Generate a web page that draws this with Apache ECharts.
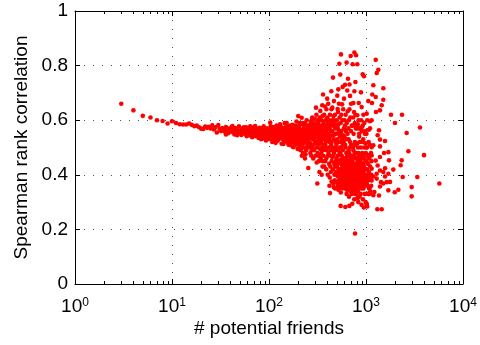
<!DOCTYPE html>
<html>
<head>
<meta charset="utf-8">
<script src="https://cdn.jsdelivr.net/npm/echarts@6/dist/echarts.min.js"></script>
<style>
  html, body { margin: 0; padding: 0; background: #fff; }
  #chart { width: 480px; height: 345px; }
</style>
</head>
<body>
<div id="chart"></div>
<script>
// Spearman rank correlation against number of potential friends (log x)

const xRange = [1, 10000];
const yTicks = [0, 0.2, 0.4, 0.6, 0.8, 1];
const minorTickVals = [2,3,4,5,6,7,8,9,20,30,40,50,60,70,80,90,200,300,400,500,600,700,800,900,2000,3000,4000,5000,6000,7000,8000,9000];

// few potential friends: one user per count
const tailPts = [
  [3,.660],[4,.636],[5,.616],[6,.610],[7,.600],[8,.597],[9,.588],[10,.596],[11,.590],[12,.585],
  [13,.584],[14,.584],[15,.588],[16,.583],[17,.578],[18,.580],[19,.574],[20,.569],[21,.568],[22,.577],
  [23,.572],[24,.576],[25,.570],[26,.581],[27,.566],[28,.574],[29,.555]
];

// 30 - 100 potential friends
const bandPts = [
  [30,.582],[31,.568],[32,.560],[33,.571],[34,.566],[35,.558],[36,.575],[37,.563],[38,.552],[39,.569],
  [40,.561],[41,.574],[42,.556],[43,.566],[44,.548],[45,.571],[46,.559],[47,.565],[48,.551],[49,.578],
  [50,.557],[51,.563],[52,.546],[53,.569],[54,.553],[55,.574],[56,.560],[57,.549],[58,.566],[59,.541],
  [60,.571],[61,.555],[62,.562],[63,.545],[64,.578],[65,.551],[66,.566],[67,.538],[68,.559],[69,.573],
  [70,.547],[71,.563],[72,.552],[73,.541],[74,.569],[75,.556],[76,.546],[77,.561],[78,.535],[79,.552],
  [80,.572],[81,.544],[82,.558],[83,.530],[84,.565],[85,.549],[86,.539],[87,.557],[88,.545],[89,.568],
  [90,.533],[91,.552],[92,.561],[93,.526],[94,.547],[95,.557],[96,.538],[97,.565],[98,.544],[99,.531],
  [100,.552],[36,.548],[42,.579],[47,.545],[53,.556],[58,.574],[63,.566],[68,.544],[72,.579],[77,.548],
  [82,.569],[86,.558],[91,.540],[95,.570],[98,.560],[79,.538],[88,.578],[93,.555]
];

// 100 - 250 potential friends
const corePts = [
  [101,.540],[102,.565],[103,.591],[104,.530],[105,.555],[106,.547],[107,.572],[108,.520],[109,.561],[110,.538],
  [111,.552],[112,.575],[113,.529],[114,.558],[115,.544],[116,.566],[117,.517],[118,.551],[119,.536],[120,.580],
  [121,.547],[122,.560],[123,.525],[124,.553],[125,.541],[126,.569],[127,.532],[128,.556],[129,.545],[130,.585],
  [104,.578],[108,.548],[112,.537],[116,.522],[120,.558],[124,.570],[128,.535],[106,.560],[118,.565],[126,.550],
  [131,.538],[133,.560],[135,.514],[136,.548],[138,.572],[139,.530],[141,.513],[142,.555],[144,.541],[145,.590],
  [147,.527],[148,.562],[150,.545],[152,.590],[153,.533],[155,.569],[156,.518],[158,.552],[160,.538],[161,.578],
  [163,.525],[164,.560],[166,.546],[167,.508],[169,.571],[170,.535],[172,.555],[173,.519],[175,.583],[176,.542],
  [178,.501],[179,.565],[132,.575],[137,.540],[143,.522],[146,.567],[151,.555],[157,.533],[162,.549],[168,.527],
  [174,.560],[177,.530],[134,.551],[149,.575],[159,.510],[165,.580],[171,.545],
  [181,.548],[183,.527],[185,.570],[186,.510],[188,.556],[190,.538],[192,.595],[193,.520],[195,.562],[197,.495],
  [198,.545],[200,.615],[202,.530],[204,.575],[205,.505],[207,.552],[209,.540],[211,.490],[213,.585],[215,.525],
  [217,.609],[219,.560],[220,.512],[222,.545],[224,.480],[226,.570],[228,.530],[230,.555],[232,.500],[234,.590],
  [236,.538],[238,.475],[240,.565],[242,.520],[244,.548],[246,.498],[248,.580],[250,.535],[184,.540],[189,.580],
  [194,.532],[199,.575],[203,.515],[208,.565],[212,.550],[216,.497],[221,.590],[225,.540],[229,.517],[233,.565],
  [237,.548],[241,.490],[245,.600],[249,.510],[187,.520],[196,.550],[206,.590],[214,.535],[223,.560],[231,.580],
  [239,.530],[247,.555],[218,.470],[235,.460]
];

// 250 - 1150 potential friends: the widening fan
const spreadPts = [
  [255,.55],[258,.52],[262,.58],[265,.50],[268,.56],[270,.54],[273,.47],[275,.60],[252,.57],[260,.535],
  [266,.515],[271,.575],[276,.49],[257,.545],[263,.505],[254,.425],[274,.555],[269,.59],[259,.565],[267,.48],
  [278,.56],[280,.53],[283,.59],[285,.51],[287,.545],[290,.57],[292,.49],[295,.525],[297,.605],[300,.555],
  [302,.47],[281,.50],[288,.585],[294,.54],[299,.515],[303,.58],[286,.46],[296,.565],[279,.61],[291,.53],
  [305,.646],[307,.59],[309,.55],[311,.52],[313,.57],[315,.368],[317,.48],[319,.60],[321,.535],[323,.51],
  [325,.565],[327,.45],[329,.58],[331,.41],[333,.545],[335,.495],[308,.62],[312,.50],[318,.555],[322,.59],
  [326,.47],[330,.525],[334,.61],[310,.445],[320,.575],
  [338,.634],[340,.56],[342,.52],[344,.60],[346,.48],[348,.545],[350,.58],[352,.50],[354,.655],[356,.43],
  [358,.565],[360,.53],[362,.47],[364,.595],[366,.51],[368,.55],[341,.46],[345,.575],[349,.40],[353,.535],
  [357,.615],[361,.49],[365,.56],[343,.515],[359,.45],[367,.585],
  [361,.694],[370,.62],[372,.54],[375,.50],[377,.58],[380,.45],[382,.60],[384,.52],[387,.56],[389,.42],
  [391,.64],[393,.49],[395,.57],[398,.679],[400,.535],[402,.47],[404,.59],[371,.43],[376,.555],[381,.51],
  [386,.575],[390,.46],[394,.545],[399,.61],[403,.40],[378,.65],[392,.525],
  [408,.66],[410,.55],[412,.50],[415,.60],[417,.44],[419,.57],[421,.52],[423,.39],[425,.62],[426,.333],
  [428,.58],[430,.47],[432,.54],[434,.41],[436,.56],[438,.49],[439,.706],[441,.52],[443,.45],[445,.60],
  [411,.48],[416,.53],[420,.36],[424,.565],[429,.43],[433,.595],[437,.51],[442,.375],[414,.585],[427,.545],[440,.64],
  [450,.646],[457,.756],[448,.56],[452,.50],[455,.42],[458,.58],[461,.47],[464,.355],[466,.53],[469,.60],
  [471,.44],[474,.55],[476,.38],[479,.62],[481,.49],[484,.57],[486,.41],[488,.52],[490,.45],[453,.59],
  [459,.37],[463,.545],[468,.48],[473,.40],[478,.575],[483,.43],[487,.50],[449,.465],[467,.67],[480,.35],
  [462,.615],[485,.585],
  [506,.690],[510,.641],[518,.713],[531,.807],[494,.55],[497,.46],[500,.60],[503,.40],[505,.53],[508,.44],
  [512,.57],[514,.36],[516,.49],[520,.585],[522,.42],[525,.52],[527,.38],[530,.555],[533,.45],[535,.61],
  [537,.39],[539,.50],[496,.51],[501,.43],[507,.58],[513,.47],[519,.345],[524,.56],[529,.41],[534,.48],
  [538,.54],[502,.37],[515,.63],[526,.66],[498,.405],[532,.355],[511,.395],[523,.445],
  [543,.767],[548,.286],[552,.841],[566,.658],[575,.722],[544,.55],[546,.42],[549,.59],[551,.37],[554,.50],
  [556,.44],[558,.56],[560,.39],[563,.47],[565,.35],[568,.53],[570,.41],[572,.60],[574,.38],[577,.49],
  [579,.43],[581,.545],[583,.36],[586,.40],[588,.52],[590,.45],[592,.57],[545,.48],[550,.335],[555,.415],
  [559,.52],[562,.36],[567,.44],[571,.385],[576,.51],[580,.40],[584,.46],[589,.37],[557,.62],[582,.64],
  [547,.40],[564,.425],[578,.355],[587,.43],[553,.455],
  [594,.679],[608,.73],[612,.282],[631,.811],[641,.709],[648,.633],[652,.752],[596,.40],[598,.54],[600,.37],
  [603,.46],[605,.42],[607,.58],[610,.35],[614,.50],[616,.39],[618,.44],[620,.56],[622,.36],[624,.41],
  [626,.48],[628,.38],[630,.53],[633,.43],[635,.345],[637,.40],[639,.47],[643,.37],[645,.55],[647,.42],
  [650,.39],[599,.43],[604,.385],[609,.51],[615,.41],[619,.36],[623,.455],[627,.395],[632,.33],[636,.44],
  [640,.375],[646,.415],[651,.47],[602,.60],[617,.62],[634,.59],[649,.355],[611,.445],[625,.43],
  [673,.286],[676,.731],[684,.689],[695,.835],[655,.41],[658,.38],[660,.45],[662,.53],[664,.36],[667,.42],
  [669,.39],[671,.48],[674,.35],[678,.44],[680,.40],[683,.37],[686,.52],[688,.42],[690,.385],[692,.46],
  [694,.34],[697,.41],[699,.56],[701,.38],[703,.43],[706,.36],[708,.47],[710,.40],[712,.33],[714,.44],
  [716,.385],[657,.57],[666,.60],[675,.64],[689,.61],[702,.66],[713,.58],[659,.345],[672,.405],[685,.355],
  [698,.425],[709,.375],[663,.49],[679,.50],[693,.395],[705,.51],[668,.32],[687,.45],
  [722,.294],[728,.805],[741,.663],[759,.848],[759,.706],[771,.185],[778,.74],[789,.838],[720,.45],[724,.38],
  [727,.42],[730,.36],[732,.50],[735,.40],[737,.35],[740,.44],[743,.39],[745,.55],[748,.37],[750,.43],
  [752,.34],[755,.41],[757,.47],[760,.38],[762,.44],[765,.36],[767,.40],[769,.52],[772,.33],[774,.42],
  [776,.375],[779,.46],[781,.35],[783,.40],[785,.57],[787,.43],[725,.58],[738,.61],[753,.63],[766,.59],
  [780,.62],[733,.345],[746,.415],[758,.36],[770,.395],[784,.365],[729,.465],[742,.49],[763,.48],[775,.51],[756,.31],
  [813,.805],[813,.618],[813,.313],[841,.663],[790,.40],[792,.44],[795,.37],[797,.41],[800,.35],[802,.48],
  [805,.39],[807,.43],[810,.36],[815,.42],[817,.38],[820,.46],[822,.34],[825,.40],[827,.50],[830,.37],
  [832,.44],[835,.39],[837,.35],[840,.42],[843,.48],[845,.38],[848,.41],[850,.36],[852,.55],[855,.40],
  [857,.44],[860,.37],[862,.52],[865,.39],[794,.58],[808,.57],[824,.585],[838,.60],[853,.57],[798,.33],
  [818,.315],[833,.30],[858,.32],[803,.46],[828,.45],[846,.47],[864,.43],[812,.515],[849,.54],[887,.702],
  [870,.42],[873,.38],[876,.45],[879,.36],[882,.40],[885,.50],[889,.37],[892,.43],[895,.39],[898,.35],
  [900,.46],[903,.41],[906,.37],[912,.44],[915,.38],[918,.40],[920,.52],[923,.36],[926,.42],[929,.39],
  [932,.47],[935,.37],[938,.41],[941,.35],[944,.44],[948,.39],[952,.43],[955,.37],[958,.50],[962,.40],
  [965,.36],[968,.42],[972,.38],[975,.55],[978,.40],[982,.37],[985,.45],[990,.39],[995,.42],[872,.57],
  [890,.60],[905,.56],[925,.58],[940,.62],[960,.59],[980,.56],[997,.48],[880,.33],[900,.29],[930,.31],
  [950,.28],[970,.33],[992,.30],[915,.48],[936,.53],[963,.46],[988,.515],[925,.768],[953,.761],[902,.648],[902,.573],
  [1005,.40],[1010,.45],[1015,.37],[1020,.50],[1025,.42],[1030,.36],[1035,.47],[1045,.39],[1050,.44],[1060,.38],
  [1065,.52],[1070,.41],[1075,.35],[1080,.46],[1090,.40],[1100,.57],[1105,.43],[1120,.39],[1125,.48],[1130,.36],
  [1140,.45],[1010,.55],[1030,.60],[1050,.33],[1070,.565],[1095,.51],[1110,.34],[1135,.40]
];

// sparse users with many potential friends
const outerPts = [
  [1259,.821],[1340,.785],[1289,.773],[1190,.728],[1509,.717],[1508,.675],[1452,.655],[1259,.685],[1161,.694],[1057,.670],
  [1153,.663],[1016,.624],[1268,.630],[1394,.636],[1811,.620],[2350,.620],[1990,.590],[2625,.553],[3603,.573],[1362,.563],
  [1394,.529],[1319,.545],[1570,.524],[1099,.596],[1143,.600],
  [1190,.508],[1394,.504],[1143,.471],[1394,.465],[1726,.453],[2332,.453],[2276,.435],[1911,.419],[2735,.486],[3963,.472],
  [2388,.392],[3380,.392],[5700,.368],[2958,.355],[2958,.321],[2155,.345],[1978,.336],[1768,.374],[1309,.274],[1452,.274],
  [1508,.368],[1289,.386],[1190,.325],[1099,.331],[1016,.294],[1700,.404],[1508,.410],
  [1143,.501],[1016,.500],[1534,.480],[1057,.471],[1259,.452],[1319,.434],[1143,.422],[1394,.416],[1571,.424],[1289,.404],
  [1190,.394],[1016,.373],[1143,.379],[1428,.373],[1571,.394],[1099,.355],[1394,.357],[1219,.337],[1057,.330],[1362,.324],
  [1016,.291],[1030,.284],[1700,.483],[1634,.373],[1700,.343]
];

const FONT = '"Liberation Sans", Arial, Helvetica, sans-serif';
const allPts = [].concat(tailPts, bandPts, corePts, spreadPts, outerPts);

const chart = echarts.init(document.getElementById('chart'), null, { renderer: 'canvas' });

const frameLine = { show: true, onZero: false, lineStyle: { color: '#000', width: 1 } };
const gridDots = { show: true, lineStyle: { color: '#555', width: 1, type: [1, 8] } };

chart.setOption({
  animation: false,
  backgroundColor: '#fff',
  grid: { left: 75, right: 17, top: 11, bottom: 61, containLabel: false },
  xAxis: [
    {
      type: 'log', logBase: 10, min: xRange[0], max: xRange[1], position: 'bottom',
      axisLine: frameLine,
      axisTick: { show: true, inside: true, length: 5, lineStyle: { color: '#000' } },
      splitLine: gridDots,
      axisLabel: {
        margin: 13,
        formatter: v => '{b|10}{s|' + Math.round(Math.log10(v)) + '}',
        rich: {
          b: { fontFamily: FONT, fontSize: 19, color: '#000', lineHeight: 20 },
          s: { fontFamily: FONT, fontSize: 12, color: '#000', lineHeight: 2, verticalAlign: 'top' }
        }
      },
      name: '# potential friends', nameLocation: 'middle', nameGap: 35, nameMoveOverlap: false,
      nameTextStyle: { fontFamily: FONT, fontSize: 19, color: '#000' }
    },
    {
      type: 'log', logBase: 10, min: xRange[0], max: xRange[1], position: 'top',
      axisLine: frameLine,
      axisTick: { show: true, inside: true, length: 5, lineStyle: { color: '#000' } },
      axisLabel: { show: false }, splitLine: { show: false }
    }
  ],
  yAxis: [
    {
      type: 'value', min: yTicks[0], max: yTicks[yTicks.length - 1], interval: 0.2, position: 'left',
      axisLine: frameLine,
      axisTick: { show: true, inside: true, length: 5, lineStyle: { color: '#000' } },
      splitLine: gridDots,
      axisLabel: { margin: 7, fontFamily: FONT, fontSize: 19, color: '#000',
        formatter: v => String(Math.round(v * 10) / 10) },
      name: 'Spearman rank correlation', nameLocation: 'middle', nameRotate: 90, nameGap: 44, nameMoveOverlap: false,
      nameTextStyle: { fontFamily: FONT, fontSize: 19, color: '#000' }
    },
    {
      type: 'value', min: yTicks[0], max: yTicks[yTicks.length - 1], interval: 0.2, position: 'right',
      axisLine: frameLine,
      axisTick: { show: true, inside: true, length: 5, lineStyle: { color: '#000' } },
      axisLabel: { show: false }, splitLine: { show: false }
    }
  ],
  series: [
    {
      type: 'scatter', xAxisIndex: 0, yAxisIndex: 0,
      data: allPts, symbol: 'circle', symbolSize: 4.6,
      itemStyle: { color: '#ff0000', opacity: 1 },
      silent: true, z: 3
    },
    {
      // minor log ticks on bottom and top edges
      type: 'custom', xAxisIndex: 0, yAxisIndex: 0, silent: true, clip: false, z: 4,
      data: minorTickVals.map(v => [v, 0]),
      renderItem: (params, api) => {
        const v = api.value(0);
        const b = api.coord([v, yTicks[0]]);
        const t = api.coord([v, yTicks[yTicks.length - 1]]);
        const x = Math.round(b[0]) + 0.5;
        const st = { stroke: '#000', lineWidth: 1 };
        return {
          type: 'group',
          children: [
            { type: 'line', shape: { x1: x, y1: b[1], x2: x, y2: b[1] - 3 }, style: st },
            { type: 'line', shape: { x1: x, y1: t[1], x2: x, y2: t[1] + 3 }, style: st }
          ]
        };
      }
    }
  ]
});
</script>
</body>
</html>
